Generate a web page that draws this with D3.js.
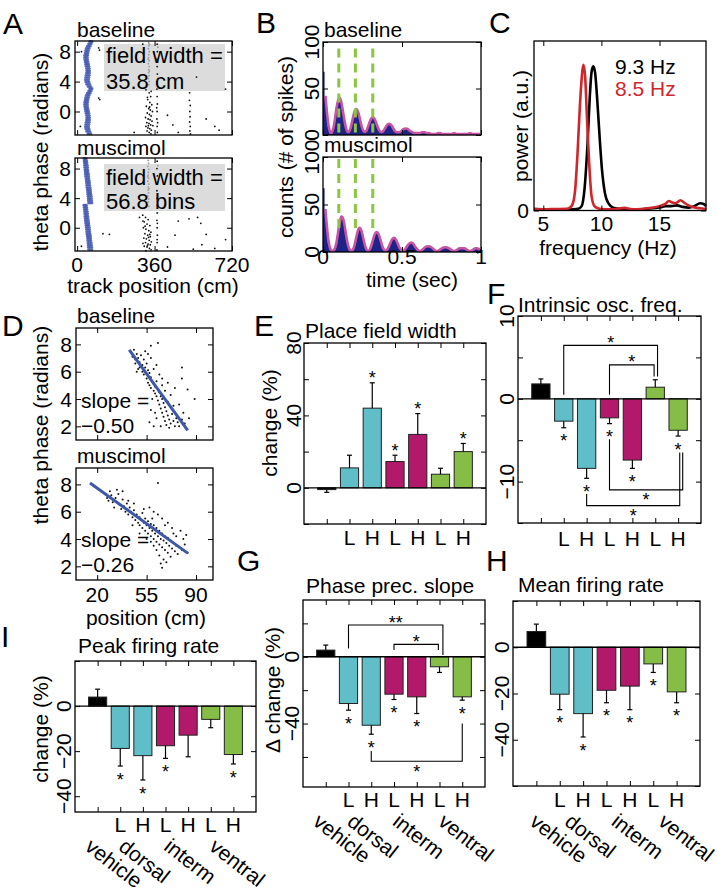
<!DOCTYPE html>
<html><head><meta charset="utf-8">
<script src="https://cdn.jsdelivr.net/npm/d3@7"></script>
<style>
body{margin:0;background:#fff;}
svg{display:block;font-family:"Liberation Sans",Arial,Helvetica,sans-serif;}
</style></head><body>
<svg id="fig" width="717" height="892"></svg>
<script>
// ===================== DATA =====================
// Panel A: one theta cycle of blue spikes [phase, positions(cm)] (plotted twice, +2π)
const aBlueBaseline = [
 [3.05,[58,64,70]],[2.75,[53,60,66]],[2.45,[47,54,61]],[2.15,[42,49,56]],
 [1.85,[39,46,53]],[1.55,[37,44,51]],[1.25,[35,42,49]],[0.95,[34,41,48]],
 [0.65,[35,42,49]],[0.35,[37,44,51]],[0.05,[39,46,53]],[-0.25,[41,48,55]],
 [-0.55,[43,50,57]],[-0.85,[44,51,58]],[-1.15,[43,50,58]],[-1.45,[41,49,57]],
 [-1.75,[39,47,55]],[-2.05,[38,46,54]],[-2.35,[40,48,56]],[-2.65,[44,51,59]],
 [-2.95,[50,57,64]]
];
const aBlueMuscimol = [
 [3.05,[31,37,43]],[2.75,[32,38,45]],[2.45,[33,40,46]],[2.15,[34,41,48]],
 [1.85,[35,42,49]],[1.55,[36,43,50]],[1.25,[37,44,51]],[0.95,[38,45,53]],
 [0.65,[39,47,54]],[0.35,[41,48,55]],[0.05,[42,49,57]],[-0.25,[43,51,58]],
 [-0.55,[44,52,59]],[-0.85,[45,53,61]],[-1.15,[47,54,62]],[-1.45,[48,56,63]],
 [-1.75,[49,57,64]],[-2.05,[50,58,66]],[-2.35,[51,59,67]],[-2.65,[52,60,68]],
 [-2.95,[53,61,69]]
];
// other spikes [position cm, phase rad]
const aBlackBaseline = [
 [320,2.9],[335,2.5],[342,2.0],[328,1.6],[338,1.2],[347,0.9],[322,0.7],[333,0.4],[340,0.2],[350,0.0],
 [326,-0.2],[336,-0.4],[344,-0.6],[318,-0.8],[330,-1.0],[339,-1.1],[348,-1.3],[324,-1.5],[334,-1.6],[342,-1.8],
 [352,-1.9],[320,-2.0],[329,-2.2],[338,-2.3],[345,-2.5],[325,-2.6],[335,-2.8],[343,-3.0],[331,-1.9],[337,0.6],
 [327,1.9],[344,2.7],
 [372,9.0],[373,8.0],[371,7.0],[372,6.0],[373,5.0],[372,4.0],[371,3.0],[372,2.0],[373,1.0],[372,0.0],
 [371,-1.0],[372,-2.0],[373,-2.8],[374,-1.5],[370,0.5],
 [522,1.5],[526,0.8],[524,0.0],[525,-0.7],[523,-1.4],[526,-2.0],[524,-2.6],[527,-3.0],[523,2.5],
 [100,8.5],[104,8.2],[100,1.8],[105,1.6],[265,-2.8],[305,9.0],[420,-0.5],[445,-1.8],[470,-2.8],[555,4.6],
 [600,-1.0],[640,-2.0],[20,8.0],[15,-2.0],[690,3.0],[660,-2.5]
];
const aBlackMuscimol = [
 [305,1.7],[318,1.4],[330,1.1],[312,0.8],[325,0.5],[338,0.3],[308,0.0],[320,-0.2],[333,-0.4],[343,-0.6],
 [315,-0.8],[328,-1.0],[340,-1.2],[310,-1.4],[322,-1.5],[335,-1.7],[345,-1.9],[318,-2.0],[330,-2.2],[340,-2.3],
 [312,-2.5],[325,-2.6],[336,-2.8],[344,-3.0],[320,-3.1],[332,-1.3],[327,-2.4],[338,-0.9],[306,-2.1],[316,0.2],
 [372,9.0],[371,8.0],[373,7.0],[372,6.0],[371,5.0],[372,4.0],[373,3.0],[372,2.0],[371,1.0],[372,0.0],
 [373,-1.0],[372,-2.0],[371,-3.0],[372,-1.6],[373,0.6],
 [290,1.4],[306,0.9],[470,0.9],[520,1.2],[560,1.4],[575,0.6],[455,-1.0],[580,-2.3],[600,-0.9],[640,-2.8],
 [150,-0.9],[120,-0.8],[20,-2.5],[540,-2.9],[420,-2.6],[690,-1.6]
];
const aGreyBaseline = [
 [332,9.2],[334,8.8],[331,8.4],[335,8.0],[333,7.6],[332,7.2],[334,6.8],[331,6.4],[335,6.0],[333,5.6],
 [332,5.2],[334,4.8],[331,4.4],[335,4.0],[333,3.6],[336,9.0],[330,7.0],[336,5.4],[375,8.6],[376,6.6],[375,4.4]
];
const aGreyMuscimol = [
 [330,9.1],[332,8.7],[329,8.3],[333,7.9],[331,7.5],[330,7.1],[332,6.7],[329,6.3],[333,5.9],[331,5.5],
 [330,5.1],[332,4.7],[329,4.3],[333,3.9],[331,3.5],[334,2.9],[328,6.9],[334,5.3],[375,8.4],[376,6.2],[375,4.0]
];
const aXTicks = [0, 360, 720];
const aYTicks = [0, 4, 8];
const aFieldText = [["field width =", "35.8 cm"], ["field width =", "56.8 bins"]];

// Panel B: autocorrelogram counts, 0.01 s bins from 0 to 1 s
const bCountsBaseline = [68,42,24,9,2,2,6,16,29,38, 41,37,27,16,7,3,3,7,15,23, 28,28,24,16,9,4,3,4,9,14,
 18,20,18,14,9,5,3,3,5,8, 11,12,12,10,7,4,3,3,3,4, 6,7,7,7,5,4,3,2,2,2, 2,2,3,3,3,2,2,2,1,1,
 1,1,2,2,2,1,1,1,1,1, 1,1,2,2,1,1,1,1,1,1, 1,1,2,2,1,1,1,1,1,1];
const bCountsMuscimol = [67,45,26,10,3,1,1,3,9,20, 31,38,37,30,19,9,3,1,1,4, 11,19,25,26,22,14,7,2,1,2,
 6,12,18,21,21,18,12,6,2,1, 2,5,9,13,15,15,12,8,4,2, 1,2,4,7,9,10,10,8,5,3, 1,1,2,3,5,6,6,6,5,4,
 2,1,1,2,3,4,5,5,5,4, 3,2,1,1,2,3,4,4,4,4, 3,2,1,1,2,3,4,4,3,3];
const bBinWidth = 0.01;
const bThetaMarks = [0.1, 0.205, 0.315];
const bXTicks = [0, 0.5, 1];
const bYTicks = [0, 50, 100];

// Panel C: power spectra [frequency Hz, power a.u.]
const cSpectrumBaseline = [[4.2,0.01],[5,0.008],[6,0.005],[7,0.006],[7.5,0.008],[8,0.012],[8.3,0.03],[8.55,0.15],
 [8.8,0.45],[9.0,0.78],[9.15,0.95],[9.3,0.99],[9.45,0.95],[9.65,0.75],[9.85,0.5],[10.05,0.28],[10.3,0.12],
 [10.6,0.05],[11,0.02],[11.5,0.012],[12,0.01],[13,0.008],[14,0.012],[15,0.02],[15.5,0.03],[16,0.03],
 [16.5,0.035],[17,0.025],[17.5,0.02],[18,0.03],[18.5,0.05],[18.8,0.045],[19,0.03]];
const cSpectrumMuscimol = [[4.2,0.01],[5,0.008],[6,0.01],[7,0.012],[7.3,0.02],[7.55,0.05],[7.75,0.15],[7.95,0.4],
 [8.15,0.72],[8.35,0.95],[8.45,1.0],[8.6,0.92],[8.75,0.65],[8.95,0.32],[9.15,0.1],[9.4,0.03],[9.7,0.015],
 [10,0.01],[11,0.008],[12,0.018],[12.5,0.01],[13,0.008],[14,0.015],[15,0.03],[15.5,0.045],[15.8,0.065],
 [16.1,0.055],[16.4,0.05],[16.8,0.07],[17.1,0.055],[17.5,0.035],[18,0.02],[18.5,0.015],[19,0.01]];
const cPeakLabels = ["9.3 Hz", "8.5 Hz"];
const cXTicks = [5, 10, 15];

// Panel D: phase precession [position cm, phase rad]
const dPointsBaseline = [
 [44,7.4],[45,7.1],[46,7.6],[47,6.9],[48,7.3],[47,6.6],[49,7.0],[50,6.7],[51,7.2],[50,6.3],[52,6.5],[49,6.2],
 [53,6.9],[52,6.0],[54,6.3],[55,6.6],[53,5.8],[56,6.1],[55,5.5],[57,5.9],[56,5.2],[58,5.6],[57,5.0],[59,5.3],
 [58,4.8],[60,5.1],[60,4.6],[61,4.9],[62,5.3],[61,4.4],[63,4.7],[62,4.2],[64,4.5],[63,3.9],[65,4.2],[64,3.6],
 [66,4.0],[65,3.3],[67,3.7],[66,3.0],[68,3.4],[67,2.7],[69,3.1],[68,2.4],[70,2.8],[69,2.1],[71,2.5],[72,2.2],
 [73,2.9],[74,2.4],[75,2.0],[76,2.6],[77,2.3],[78,2.0],[80,2.5],[82,2.2],
 [60,2.0],[62,2.6],[58,3.2],[59,4.0],[70,3.8],[72,4.3],[74,3.5],[66,5.0],[64,5.8],[60,6.2],[58,7.0],[63,8.1],
 [58,7.9],[80,6.3],[84,4.7],[89,4.0],[80,5.5],[56,7.3],[54,7.5],[48,6.0],[62,6.5],[66,5.5],[70,5.2],[75,4.8],
 [78,3.6],[81,3.0],[85,2.6],[71,1.9],[65,2.0],[57,2.3],[61,3.0],[68,4.6]
];
const dPointsMuscimol = [
 [26,7.3],[27,7.0],[28,6.8],[30,7.2],[31,6.7],[29,7.5],[33,7.0],[34,7.6],[35,7.3],[36,6.5],[38,6.9],[37,6.2],
 [39,6.4],[40,6.0],[41,6.6],[42,5.8],[43,6.3],[44,6.0],[45,5.6],[46,6.1],[47,5.4],[48,5.8],[49,5.2],[50,5.6],
 [50,5.0],[51,5.4],[52,4.8],[52,5.9],[53,5.2],[54,4.6],[54,5.5],[55,5.0],[56,4.4],[56,5.3],[57,4.8],[58,5.1],
 [58,4.2],[59,4.6],[60,5.0],[60,4.0],[61,4.4],[62,4.8],[62,3.8],[63,4.2],[64,4.6],[64,3.6],[65,4.0],[66,4.4],
 [66,3.4],[67,3.9],[68,4.2],[68,3.2],[69,3.7],[70,4.1],[70,3.0],[71,3.5],[72,3.9],[73,3.3],[74,3.7],[75,3.1],
 [76,3.5],[77,2.9],[78,3.4],[80,3.2],[82,3.6],[84,3.0],[83,4.3],[79,4.6],[76,4.2],[73,4.8],[70,5.2],[66,5.5],
 [63,5.8],[60,6.0],[57,6.3],[63,8.1],[64,2.8],[65,2.2],[67,2.5],[66,1.9],[62,3.2],[60,3.5],[58,3.8],[55,4.0],
 [50,4.4],[45,5.0],[42,6.8],[38,7.5],[32,6.3],[46,6.6],[53,6.2],[59,5.5],[68,5.0],[74,4.4],[81,4.0],[72,2.7],[69,2.3]
];
const dFitBaseline = [[42.7,7.6],[84.1,1.7]];
const dFitMuscimol = [[14.9,8.1],[84.3,2.95]];
const dSlopes = ["\u22120.50", "\u22120.26"];
const dXTicks = [20, 55, 90];
const dYTicks = [2, 4, 6, 8];

// Bar panels (order: vehicle, dorsal L, dorsal H, interm L, interm H, ventral L, ventral H)
const groupNames = ["vehicle", "dorsal", "interm", "ventral"];
const groupCenters = [1, 2.5, 4.5, 6.5];
const doseLabels = ["", "L", "H", "L", "H", "L", "H"];
const barColors = ["#000000", "#5fbec7", "#5fbec7", "#b3196a", "#b3196a", "#86bd47", "#86bd47"];

const placeFieldValues = [-1, 11, 44, 14.5, 29.5, 7.5, 20];
const placeFieldErrors = [1.5, 7, 14, 3.5, 11.5, 3.3, 4.5];
const placeFieldStars  = [0, 0, 1, 1, 1, 0, 1];

const oscFreqValues = [1.8, -2.7, -8.4, -2.3, -7.4, 1.4, -3.8];
const oscFreqErrors = [0.6, 0.8, 1.2, 0.7, 1.0, 0.9, 0.7];
const oscFreqStars  = [0, 1, 1, 1, 1, 0, 1];
const oscFreqBrackets = [
 {a:1, b:5.1, level:6.45, footA:0.5, footB:2.7, label:"*"},
 {a:3, b:4.95, level:4.1, footA:0.5, footB:2.7, label:"*"},
 {a:3, b:6.2, level:-11.0, footA:-4.9, footB:-6.5, label:"*"},
 {a:2, b:6.07, level:-12.9, footA:-11.5, footB:-6.5, label:"*"}
];

const phaseSlopeValues = [4, -28, -41, -22.4, -24, -6, -24];
const phaseSlopeErrors = [3, 4, 5.4, 3.2, 10, 3.4, 2];
const phaseSlopeStars  = [0, 1, 1, 1, 1, 0, 1];
const phaseSlopeBrackets = [
 {a:1, b:5.15, level:19, footA:5, footB:1, label:"**"},
 {a:3, b:4.95, level:7.4, footA:4, footB:4, label:"*"},
 {a:2, b:6, level:-62.6, footA:-56.4, footB:-40, label:"*"}
];

const meanRateValues = [6.8, -20.3, -28.7, -18.6, -16.8, -7.2, -19.3];
const meanRateErrors = [3.2, 6.7, 10.1, 5.4, 10.2, 3.7, 4.7];
const meanRateStars  = [0, 1, 1, 1, 1, 1, 1];

const peakRateValues = [4, -18.8, -22, -17.6, -12.9, -5.9, -21.5];
const peakRateErrors = [3.5, 7.8, 10.8, 5.6, 9.6, 3.7, 4.2];
const peakRateStars  = [0, 1, 1, 1, 0, 0, 1];

// ===================== DRAWING =====================
const svg = d3.select("#fig");
const FS = 21;
const MINUS = "\u2212";
const fmt = v => (v < 0 ? MINUS + Math.abs(v) : String(v));

function label(g, x, y, s, o = {}) {
  return g.append("text").attr("x", x).attr("y", y).text(s)
    .attr("font-size", o.size || FS).attr("fill", o.fill || "#000")
    .attr("text-anchor", o.anchor || "start");
}
function rlabel(g, x, y, s, ang, o = {}) {
  return g.append("text").attr("transform", `translate(${x},${y}) rotate(${ang})`).text(s)
    .attr("font-size", o.size || FS).attr("fill", o.fill || "#000")
    .attr("text-anchor", o.anchor || "middle");
}
function box(g, xs, ys, xt, yt, len = 5) {
  const [x0, x1] = xs.range();
  const [yb, yt0] = ys.range();
  const mk = (axis, tr) => {
    const a = g.append("g").attr("transform", tr).call(axis);
    a.select(".domain").remove();
    a.selectAll("text").remove();
    a.selectAll("line").attr("stroke", "#000").attr("stroke-width", 1);
  };
  mk(d3.axisBottom(xs).tickValues(xt).tickSizeInner(-len).tickSizeOuter(0), `translate(0,${yb})`);
  mk(d3.axisTop(xs).tickValues(xt).tickSizeInner(-len).tickSizeOuter(0), `translate(0,${yt0})`);
  mk(d3.axisLeft(ys).tickValues(yt).tickSizeInner(-len).tickSizeOuter(0), `translate(${x0},0)`);
  mk(d3.axisRight(ys).tickValues(yt).tickSizeInner(-len).tickSizeOuter(0), `translate(${x1},0)`);
  g.append("rect").attr("x", x0).attr("y", yt0).attr("width", x1 - x0).attr("height", yb - yt0)
    .attr("fill", "none").attr("stroke", "#000").attr("stroke-width", 1.3);
}

// Panel letters
[["A", 3, 34], ["B", 256, 33], ["C", 489, 33], ["D", 2, 336], ["E", 254, 336],
 ["F", 487, 304], ["G", 237, 571], ["H", 486, 571], ["I", 1, 647]].forEach(([t, x, y]) =>
  label(svg, x, y, t, {size: 30}));

// ---------- Panel A ----------
(function () {
  const g = svg.append("g");
  const xs = d3.scaleLinear().domain([-10, 720]).range([75, 232]);
  const panels = [
    {blue: aBlueBaseline, black: aBlackBaseline, grey: aGreyBaseline, yr: [135, 41], title: "baseline", ty: 37, txt: aFieldText[0], bx: [44, 91], tb: [63, 89]},
    {blue: aBlueMuscimol, black: aBlackMuscimol, grey: aGreyMuscimol, yr: [251, 158], title: "muscimol", ty: 155, txt: aFieldText[1], bx: [164, 211], tb: [185, 209]}
  ];
  panels.forEach(p => {
    const ys = d3.scaleLinear().domain([-Math.PI, 3 * Math.PI]).range(p.yr);
    g.append("rect").attr("x", 104).attr("y", p.bx[0]).attr("width", 121).attr("height", p.bx[1] - p.bx[0]).attr("fill", "#dcdcdc");
    g.selectAll(null).data(p.grey).join("circle").attr("cx", d => xs(d[0])).attr("cy", d => ys(d[1])).attr("r", 0.9).attr("fill", "#9a9a9a");
    g.selectAll(null).data(p.black).join("circle").attr("cx", d => xs(d[0])).attr("cy", d => ys(d[1])).attr("r", 0.9).attr("fill", "#111");
    const blue = [];
    p.blue.forEach(([ph, ps]) => ps.forEach(pos => { blue.push([pos, ph]); blue.push([pos, ph + 2 * Math.PI]); }));
    g.selectAll(null).data(blue).join("circle").attr("cx", d => xs(d[0])).attr("cy", d => ys(d[1])).attr("r", 1.4)
      .attr("fill", "#4256b0").attr("fill-opacity", 0.85);
    label(g, 106, p.tb[0], p.txt[0], {size: 22});
    label(g, 106, p.tb[1], p.txt[1], {size: 22});
    box(g, xs, ys, aXTicks, aYTicks);
    aYTicks.forEach(t => label(g, 71, ys(t) + 7.5, String(t), {anchor: "end"}));
    label(g, 77, p.ty, p.title);
  });
  aXTicks.forEach(t => label(g, xs(t), 272, String(t), {anchor: "middle"}));
  label(g, 153, 293, "track position (cm)", {anchor: "middle"});
  rlabel(g, 48, 152, "theta phase (radians)", -90);
})();

// ---------- Panel B ----------
(function () {
  const g = svg.append("g");
  const xs = d3.scaleLinear().domain([0, 1]).range([323, 481]);
  const panels = [
    {counts: bCountsBaseline, yr: [135, 42], title: "baseline", ty: 37, dash: [93, 2]},
    {counts: bCountsMuscimol, yr: [252, 157], title: "muscimol", ty: 152, dash: [98, 20]}
  ];
  panels.forEach(p => {
    const ys = d3.scaleLinear().domain([0, 100]).range(p.yr);
    const pts = p.counts.map((c, i) => [i * bBinWidth, c]);
    pts.push([1, p.counts[p.counts.length - 1]]);
    g.append("path").datum(pts)
      .attr("d", d3.area().x(d => xs(d[0])).y0(ys(0)).y1(d => ys(d[1])).curve(d3.curveStepAfter))
      .attr("fill", "#1e2388");
    const sm = p.counts.map((c, i) => [i * bBinWidth + bBinWidth / 2, c]).slice(1);
    g.append("path").datum(sm)
      .attr("d", d3.line().x(d => xs(d[0])).y(d => ys(d[1])).curve(d3.curveBasis))
      .attr("fill", "none").attr("stroke", "#c855a4").attr("stroke-width", 2.6);
    bThetaMarks.forEach(t => g.append("line").attr("x1", xs(t)).attr("x2", xs(t))
      .attr("y1", ys(p.dash[0])).attr("y2", ys(p.dash[1]))
      .attr("stroke", "#8cc640").attr("stroke-width", 3).attr("stroke-dasharray", "9,6"));
    box(g, xs, ys, bXTicks, bYTicks);
    bYTicks.forEach(t => rlabel(g, 319, ys(t), String(t), -90));
    label(g, 324, p.ty, p.title);
  });
  bXTicks.forEach(t => label(g, xs(t), 264, String(t), {anchor: "middle"}));
  label(g, 412, 287, "time (sec)", {anchor: "middle"});
  rlabel(g, 293, 147, "counts (# of spikes)", -90);
})();

// ---------- Panel C ----------
(function () {
  const g = svg.append("g");
  const xs = d3.scaleLinear().domain([4.2, 19]).range([534, 706]);
  const ys = d3.scaleLinear().domain([0, 1.164]).range([210.5, 41]);
  const line = d3.line().x(d => xs(d[0])).y(d => ys(d[1])).curve(d3.curveMonotoneX);
  g.append("path").datum(cSpectrumBaseline).attr("d", line).attr("fill", "none").attr("stroke", "#000").attr("stroke-width", 2.6);
  g.append("path").datum(cSpectrumMuscimol).attr("d", line).attr("fill", "none").attr("stroke", "#d0262b").attr("stroke-width", 2.6);
  box(g, xs, ys, cXTicks, [0]);
  label(g, 529, 218, "0", {anchor: "end"});
  cXTicks.forEach(t => label(g, xs(t), 231, String(t), {anchor: "middle"}));
  label(g, 608, 255, "frequency (Hz)", {anchor: "middle"});
  rlabel(g, 528, 126, "power (a.u.)", -90);
  label(g, 615, 74, cPeakLabels[0]);
  label(g, 615, 96, cPeakLabels[1], {fill: "#d0262b"});
})();

// ---------- Panel D ----------
(function () {
  const g = svg.append("g");
  const xs = d3.scaleLinear().domain([5, 102]).range([76, 213]);
  const panels = [
    {pts: dPointsBaseline, fit: dFitBaseline, yr: [440, 328], title: "baseline", ty: 323, slope: dSlopes[0], sy: [408, 433]},
    {pts: dPointsMuscimol, fit: dFitMuscimol, yr: [580, 468], title: "muscimol", ty: 463, slope: dSlopes[1], sy: [547, 572]}
  ];
  panels.forEach(p => {
    const ys = d3.scaleLinear().domain([1, 9.2]).range(p.yr);
    label(g, 81, p.sy[0], "slope =");
    label(g, 81, p.sy[1], p.slope);
    g.selectAll(null).data(p.pts).join("circle").attr("cx", d => xs(d[0])).attr("cy", d => ys(d[1])).attr("r", 1.0).attr("fill", "#111");
    g.append("path").datum(p.fit).attr("d", d3.line().x(d => xs(d[0])).y(d => ys(d[1])))
      .attr("stroke", "#3f57a8").attr("stroke-width", 3).attr("fill", "none");
    box(g, xs, ys, dXTicks, dYTicks);
    dYTicks.forEach(t => label(g, 72, ys(t) + 7.5, String(t), {anchor: "end"}));
    label(g, 77, p.ty, p.title);
  });
  dXTicks.forEach(t => label(g, xs(t), 602, String(t), {anchor: "middle"}));
  label(g, 146, 625, "position (cm)", {anchor: "middle"});
  rlabel(g, 48, 425, "theta phase (radians)", -90);
})();

// ---------- Bar panels ----------
function barPanel(c) {
  const g = svg.append("g");
  const xs = d3.scaleLinear().domain([0, 8]).range([c.x0, c.x0 + c.w]);
  const ys = d3.scaleLinear().domain(c.domain).range([c.y0 + c.h, c.y0]);
  const bw = (xs(1) - xs(0)) * 0.8;
  const rows = c.values.map((v, i) => ({v, e: c.errors[i], s: c.stars[i], i}));
  g.selectAll(null).data(rows).join("rect")
    .attr("x", d => xs(d.i + 1) - bw / 2).attr("y", d => Math.min(ys(d.v), ys(0)))
    .attr("width", bw).attr("height", d => Math.abs(ys(d.v) - ys(0)))
    .attr("fill", d => barColors[d.i]).attr("stroke", "#222").attr("stroke-width", 1);
  g.append("line").attr("x1", xs(0)).attr("x2", xs(8)).attr("y1", ys(0)).attr("y2", ys(0))
    .attr("stroke", "#000").attr("stroke-width", 1.3);
  rows.forEach(d => {
    const x = xs(d.i + 1), sg = d.v >= 0 ? 1 : -1, yEnd = ys(d.v + sg * d.e);
    g.append("line").attr("x1", x).attr("x2", x).attr("y1", ys(d.v)).attr("y2", yEnd).attr("stroke", "#000").attr("stroke-width", 1.2);
    g.append("line").attr("x1", x - 2.5).attr("x2", x + 2.5).attr("y1", yEnd).attr("y2", yEnd).attr("stroke", "#000").attr("stroke-width", 1.2);
    if (d.s) {
      const cy = yEnd - sg * 9;
      label(g, x, cy + 10.6, "*", {anchor: "middle", size: 18});
    }
  });
  (c.brackets || []).forEach(b => {
    const xa = xs(b.a + 1), xb = xs(b.b + 1), yl = ys(b.level);
    g.append("path").attr("d", `M${xa},${ys(b.footA)}V${yl}H${xb}V${ys(b.footB)}`)
      .attr("fill", "none").attr("stroke", "#000").attr("stroke-width", 1.1);
    const cy = b.level > 0 ? yl - 7 : yl + 6;
    label(g, (xa + xb) / 2, cy + 10.6, b.label, {anchor: "middle", size: 18});
  });
  box(g, xs, ys, [1, 2, 3, 4, 5, 6, 7], c.yTicks);
  c.yLabels.forEach(t => rlabel(g, c.tickX, ys(t), fmt(t), -90));
  doseLabels.forEach((t, i) => { if (t) label(g, xs(i + 1), c.lhY, t, {anchor: "middle"}); });
  label(g, c.titleX, c.titleY, c.title);
  if (c.yTitle) rlabel(g, c.yTitleX, c.yTitleY, c.yTitle, -90);
  if (c.groups) groupNames.forEach((n, i) =>
    rlabel(g, xs(groupCenters[i]) - c.groupShift, c.lhY + 17, n, 38, {anchor: "start"}));
}

barPanel({x0: 304, y0: 343, w: 182, h: 181, domain: [-20, 80], values: placeFieldValues, errors: placeFieldErrors,
  stars: placeFieldStars, yTicks: [-20, 0, 20, 40, 60, 80], yLabels: [0, 40, 80], tickX: 301, lhY: 545,
  title: "Place field width", titleX: 305, titleY: 338, yTitle: "change (%)", yTitleX: 277, yTitleY: 423});
barPanel({x0: 518, y0: 316, w: 183, h: 207, domain: [-15, 10], values: oscFreqValues, errors: oscFreqErrors,
  stars: oscFreqStars, brackets: oscFreqBrackets, yTicks: [-15, -10, -5, 0, 5, 10], yLabels: [-10, 0, 10], tickX: 514, lhY: 546,
  title: "Intrinsic osc. freq.", titleX: 518, titleY: 312});
barPanel({x0: 303, y0: 600, w: 182, h: 187, domain: [-78, 34], values: phaseSlopeValues, errors: phaseSlopeErrors,
  stars: phaseSlopeStars, brackets: phaseSlopeBrackets, yTicks: [-60, -40, -20, 0, 20], yLabels: [-40, 0], tickX: 299, lhY: 807,
  title: "Phase prec. slope", titleX: 306, titleY: 593, yTitle: "\u0394 change (%)", yTitleX: 280, yTitleY: 690, groups: true, groupShift: 14});
barPanel({x0: 513, y0: 601, w: 187, h: 185, domain: [-60, 20], values: meanRateValues, errors: meanRateErrors,
  stars: meanRateStars, yTicks: [-60, -40, -20, 0, 20], yLabels: [-40, -20, 0], tickX: 509, lhY: 807,
  title: "Mean firing rate", titleX: 518, titleY: 592, groups: true, groupShift: 8});
barPanel({x0: 75, y0: 661, w: 181, h: 151, domain: [-47, 20], values: peakRateValues, errors: peakRateErrors,
  stars: peakRateStars, yTicks: [-40, -20, 0, 20], yLabels: [-40, -20, 0], tickX: 71, lhY: 832,
  title: "Peak firing rate", titleX: 78, titleY: 653, yTitle: "change (%)", yTitleX: 48, yTitleY: 729, groups: true, groupShift: 14});
</script>
</body></html>
